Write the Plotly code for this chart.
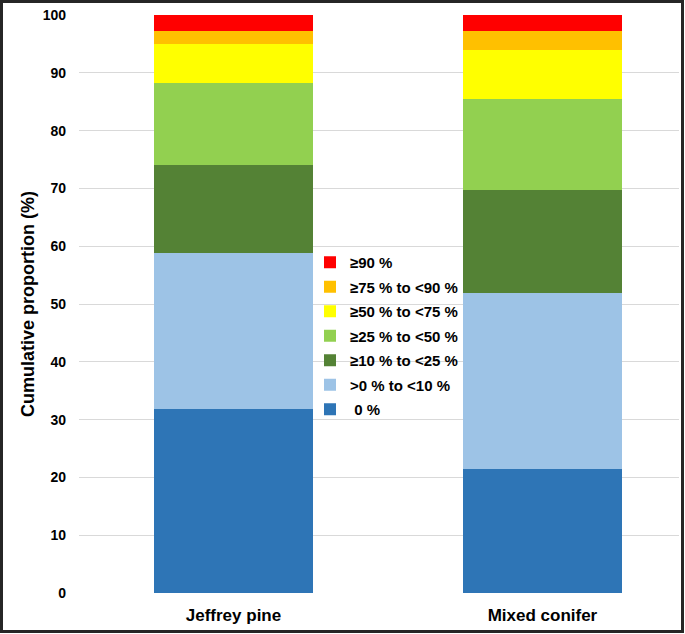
import plotly.graph_objects as go

categories = ["Jeffrey pine", "Mixed conifer"]
classes = ["0 %", ">0 % to <10 %", "≥10 % to <25 %", "≥25 % to <50 %",
           "≥50 % to <75 %", "≥75 % to <90 %", "≥90 %"]
legend_labels = [" 0 %", ">0 % to <10 %", "≥10 % to <25 %", "≥25 % to <50 %",
                 "≥50 % to <75 %", "≥75 % to <90 %", "≥90 %"]
jeffrey_pine = [31.8, 27.0, 15.2, 14.3, 6.6, 2.4, 2.7]
mixed_conifer = [21.5, 30.4, 17.9, 15.7, 8.5, 3.2, 2.8]
colors = ["#2E75B6", "#9DC3E6", "#548235", "#92D050", "#FFFF00", "#FFC000", "#FF0000"]
y_ticks = [0, 10, 20, 30, 40, 50, 60, 70, 80, 90, 100]

FONT = "Liberation Sans, Arial, sans-serif"

fig = go.Figure()
n = len(classes)
for i, cls in enumerate(classes):
    fig.add_trace(go.Bar(
        x=categories,
        y=[jeffrey_pine[i], mixed_conifer[i]],
        name=legend_labels[i],
        legendgroup=cls,
        legendrank=n - i,
        marker=dict(color=colors[i], line=dict(width=0)),
        width=0.515,
    ))

W, H = 685, 634
L, R, T, B = 79, 6, 15, 41
pw, ph = W - L - R, H - T - B

def px_x(p):
    return (p - L) / pw

def px_y(p):
    return (H - B - p) / ph

fig.update_layout(
    width=W, height=H,
    margin=dict(l=L, r=R, t=T, b=B, autoexpand=False),
    barmode="stack",
    bargap=0,
    paper_bgcolor="white",
    plot_bgcolor="white",
    font=dict(family=FONT, color="black"),
    showlegend=True,
    legend=dict(
        traceorder="grouped",
        tracegroupgap=2,
        x=px_x(310), y=px_y(246), xanchor="left", yanchor="top",
        bgcolor="rgba(255,255,255,0)",
        font=dict(family=FONT, size=15, color="black", weight="bold"),
        itemwidth=30,
    ),
    xaxis=dict(
        range=[-0.5, 1.442],
        showgrid=False, zeroline=False, showline=False,
        tickfont=dict(family=FONT, size=17, color="black", weight="bold"),
        ticks="", ticklabelstandoff=10,
    ),
    yaxis=dict(
        range=[0, 100],
        tickvals=y_ticks,
        showgrid=True, gridcolor="#D9D9D9", gridwidth=1,
        zeroline=False, showline=False,
        tickfont=dict(family=FONT, size=14, color="black", weight="bold"),
        ticks="", ticklabelstandoff=12,
        title=dict(text="Cumulative proportion (%)", standoff=3,
                   font=dict(family=FONT, size=18, color="black", weight="bold")),
    ),
    shapes=[dict(
        type="rect", xref="paper", yref="paper",
        x0=px_x(1.5), x1=px_x(682.5), y0=px_y(631.5), y1=px_y(1.5),
        line=dict(color="#262626", width=3), fillcolor="rgba(0,0,0,0)",
        layer="above",
    )],
)

fig.write_html("out.html", config={"displayModeBar": False},
               post_script="document.body.style.margin='0';")
